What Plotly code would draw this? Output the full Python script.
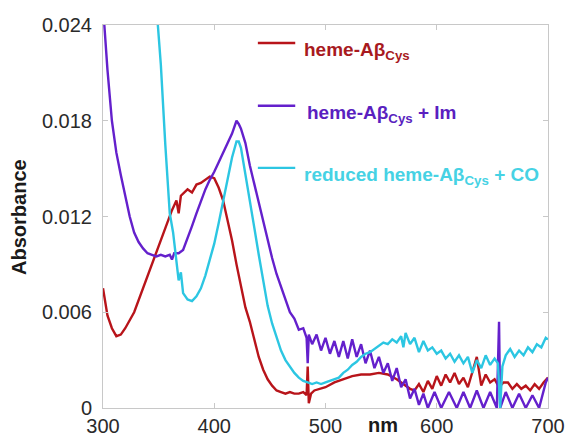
import plotly.graph_objects as go

# ---------------- data ----------------
red_nm = [300, 304, 308, 312, 316, 320, 328, 336, 344, 352, 358, 362, 366, 368, 370, 376, 380, 384, 388, 392,
          396, 400, 404, 408, 412, 416, 420, 424, 428, 432, 436, 440, 444, 448, 452, 456, 460, 464, 468, 472,
          476, 480, 483, 484, 485, 487, 490, 496, 500, 508, 516, 524, 532, 540, 548, 556, 564, 570, 576, 580,
          584, 588, 592, 596, 600, 604, 608, 612, 616, 620, 624, 628, 632, 636, 640, 644, 648, 652, 656, 660,
          664, 668, 672, 676, 680, 684, 688, 692, 696, 700]
red_abs = [0.0075, 0.0058, 0.0050, 0.0045, 0.0046, 0.0050, 0.0060, 0.0075, 0.0090, 0.0106, 0.0116, 0.0124,
           0.0130, 0.0122, 0.0133, 0.0137, 0.0135, 0.0140, 0.0141, 0.0143, 0.0145, 0.0144, 0.0138, 0.0130,
           0.0118, 0.0105, 0.0090, 0.0076, 0.0063, 0.0054, 0.0042, 0.0032, 0.0024, 0.0018, 0.0014, 0.0011,
           0.0010, 0.0009, 0.0010, 0.0009, 0.0009, 0.0010, 0.0008, 0.0026, 0.0003, 0.0009, 0.0011, 0.0012,
           0.0013, 0.0016, 0.0018, 0.0020, 0.0021, 0.0021, 0.0022, 0.0021, 0.0018, 0.0015, 0.0012, 0.0011,
           0.0015, 0.0010, 0.0017, 0.0012, 0.0020, 0.0014, 0.0021, 0.0016, 0.0022, 0.0015, 0.0019, 0.0013,
           0.0022, 0.0032, 0.0014, 0.0021, 0.0016, 0.0018, 0.0013, 0.0016, 0.0016, 0.0012, 0.0015, 0.0012,
           0.0014, 0.0011, 0.0015, 0.0012, 0.0016, 0.0019]

im_nm = [300, 304, 308, 312, 316, 320, 324, 328, 332, 336, 340, 344, 348, 352, 356, 360, 362, 364, 368, 372,
         376, 380, 384, 388, 392, 396, 400, 404, 408, 412, 416, 420, 422, 424, 428, 432, 436, 440, 444, 448,
         452, 456, 460, 464, 468, 472, 476, 480, 483, 484, 485, 488, 492, 496, 500, 504, 508, 512, 516, 520,
         524, 528, 532, 536, 540, 544, 548, 552, 556, 560, 564, 568, 572, 576, 580, 584, 588, 592, 598, 604,
         611, 618, 624, 630, 636, 642, 648, 654, 656, 657, 662, 668, 674, 680, 686, 692, 698, 700]
im_abs = [0.0252, 0.0212, 0.0180, 0.0160, 0.0146, 0.0133, 0.0120, 0.0110, 0.0104, 0.0100, 0.0097, 0.0096,
          0.0095, 0.0096, 0.0095, 0.0096, 0.0093, 0.0097, 0.0097, 0.0099, 0.0106, 0.0114, 0.0122, 0.0130,
          0.0137, 0.0143, 0.0148, 0.0154, 0.0160, 0.0165, 0.0172, 0.0180, 0.0178, 0.0175, 0.0166, 0.0152,
          0.0140, 0.0128, 0.0118, 0.0106, 0.0094, 0.0084, 0.0076, 0.0068, 0.0060, 0.0056, 0.0049, 0.0050,
          0.0044, 0.0028, 0.0046, 0.0040, 0.0046, 0.0036, 0.0044, 0.0034, 0.0042, 0.0032, 0.0042, 0.0031,
          0.0043, 0.0032, 0.0040, 0.0028, 0.0036, 0.0025, 0.0032, 0.0022, 0.0028, 0.0017, 0.0025, 0.0013,
          0.0018, 0.0006, 0.0012, 0.0002, 0.0009, 0.0000, 0.0010, 0.0000, 0.0010, 0.0000, 0.0010, 0.0000,
          0.0011, 0.0000, 0.0010, 0.0000, 0.0054, 0.0000, 0.0010, 0.0000, 0.0009, 0.0000, 0.0008, 0.0000,
          0.0016, 0.0019]

co_nm = [348, 352, 356, 360, 363, 366, 368, 370, 372, 376, 380, 384, 388, 392, 396, 400, 404, 408, 412, 416,
         420, 422, 424, 428, 432, 436, 440, 444, 448, 452, 456, 460, 464, 468, 472, 476, 480, 484, 488, 492,
         496, 500, 504, 508, 512, 516, 520, 524, 528, 532, 536, 540, 544, 548, 552, 556, 560, 564, 568, 570,
         572, 576, 580, 584, 588, 592, 596, 600, 604, 608, 612, 616, 620, 624, 628, 632, 636, 640, 644, 648,
         652, 655, 657, 659, 662, 666, 670, 674, 678, 682, 686, 690, 694, 698, 700]
co_abs = [0.0252, 0.0215, 0.0165, 0.0122, 0.0110, 0.0090, 0.0080, 0.0085, 0.0072, 0.0068, 0.0067, 0.0070,
          0.0075, 0.0083, 0.0093, 0.0103, 0.0116, 0.0130, 0.0145, 0.0157, 0.0167, 0.0167, 0.0163, 0.0147,
          0.0130, 0.0113, 0.0096, 0.0080, 0.0064, 0.0053, 0.0044, 0.0036, 0.0030, 0.0026, 0.0022, 0.0019,
          0.0017, 0.0016, 0.0015, 0.0016, 0.0015, 0.0016, 0.0017, 0.0018, 0.0019, 0.0022, 0.0024, 0.0027,
          0.0029, 0.0032, 0.0034, 0.0035, 0.0037, 0.0039, 0.0041, 0.0040, 0.0043, 0.0041, 0.0045, 0.0038,
          0.0047, 0.0040, 0.0044, 0.0035, 0.0042, 0.0036, 0.0038, 0.0034, 0.0036, 0.0031, 0.0034, 0.0029,
          0.0033, 0.0028, 0.0032, 0.0022, 0.0030, 0.0025, 0.0033, 0.0027, 0.0031, 0.0028, 0.0000, 0.0026,
          0.0033, 0.0037, 0.0032, 0.0036, 0.0033, 0.0038, 0.0035, 0.0040, 0.0038, 0.0044, 0.0043]

x_ticks = [300, 400, 500, 600, 700]
x_ticktext = ["300", "400", "500", "600", "700"]
y_ticks = [0, 0.006, 0.012, 0.018, 0.024]
y_ticktext = ["0", "0.006", "0.012", "0.018", "0.024"]

series_names = ["heme-A\u03b2<sub>Cys</sub>",
                "heme-A\u03b2<sub>Cys</sub> + Im",
                "reduced heme-A\u03b2<sub>Cys</sub> + CO"]

# ---------------- styles ----------------
RED = "#b8141a"
PURPLE = "#6420cc"
CYAN = "#2cc6e2"
TXT_RED = "#a81a1e"
TXT_PURPLE = "#5a1fc0"
TXT_CYAN = "#46d2e4"
FONT = "Liberation Sans, Arial, sans-serif"

fig = go.Figure()
fig.add_trace(go.Scatter(x=red_nm, y=red_abs, mode="lines", line=dict(color=RED, width=2.4)))
fig.add_trace(go.Scatter(x=im_nm, y=im_abs, mode="lines", line=dict(color=PURPLE, width=2.4)))
fig.add_trace(go.Scatter(x=co_nm, y=co_abs, mode="lines", line=dict(color=CYAN, width=2.4)))

axis_common = dict(showline=True, linecolor="#c8c8c8", linewidth=1, mirror="ticks",
                   ticks="inside", ticklen=5, tickcolor="#c8c8c8", showgrid=False, zeroline=False,
                   automargin=False,
                   tickfont=dict(family=FONT, size=20, color="#2a2a2a"))

fig.update_layout(
    width=568, height=438, autosize=False,
    margin=dict(l=103, r=20, t=25, b=30),
    paper_bgcolor="white", plot_bgcolor="white",
    showlegend=False,
    xaxis=dict(range=[300, 700], tickvals=x_ticks, ticktext=x_ticktext, **axis_common),
    yaxis=dict(range=[0, 0.024], tickvals=y_ticks, ticktext=y_ticktext, ticklabelstandoff=6, **axis_common),
)

# legend line segments
seg_y = [0.953, 0.789, 0.627]
for yy, col in zip(seg_y, [RED, PURPLE, CYAN]):
    fig.add_shape(type="line", xref="paper", yref="paper", x0=0.348, x1=0.432, y0=yy, y1=yy,
                  line=dict(color=col, width=2.4))

# legend texts
txt_pos = [(0.447, 0.932), (0.454, 0.767), (0.447, 0.605)]
for (xx, yy), name, col in zip(txt_pos, series_names, [TXT_RED, TXT_PURPLE, TXT_CYAN]):
    fig.add_annotation(xref="paper", yref="paper", x=xx, y=yy, xanchor="left", yanchor="middle",
                       text="<b>" + name + "</b>", showarrow=False,
                       font=dict(family=FONT, size=19, color=col))

# axis titles
fig.add_annotation(xref="paper", yref="paper", x=-0.19, y=0.5, xanchor="center", yanchor="middle",
                   text="<b>Absorbance</b>", textangle=-90, showarrow=False,
                   font=dict(family=FONT, size=20, color="#1a1a1a"))
fig.add_annotation(xref="paper", yref="paper", x=0.629, y=-0.045, xanchor="center", yanchor="middle",
                   text="<b>nm</b>", showarrow=False,
                   font=dict(family=FONT, size=20, color="#1a1a1a"))

fig.write_html("out.html")
